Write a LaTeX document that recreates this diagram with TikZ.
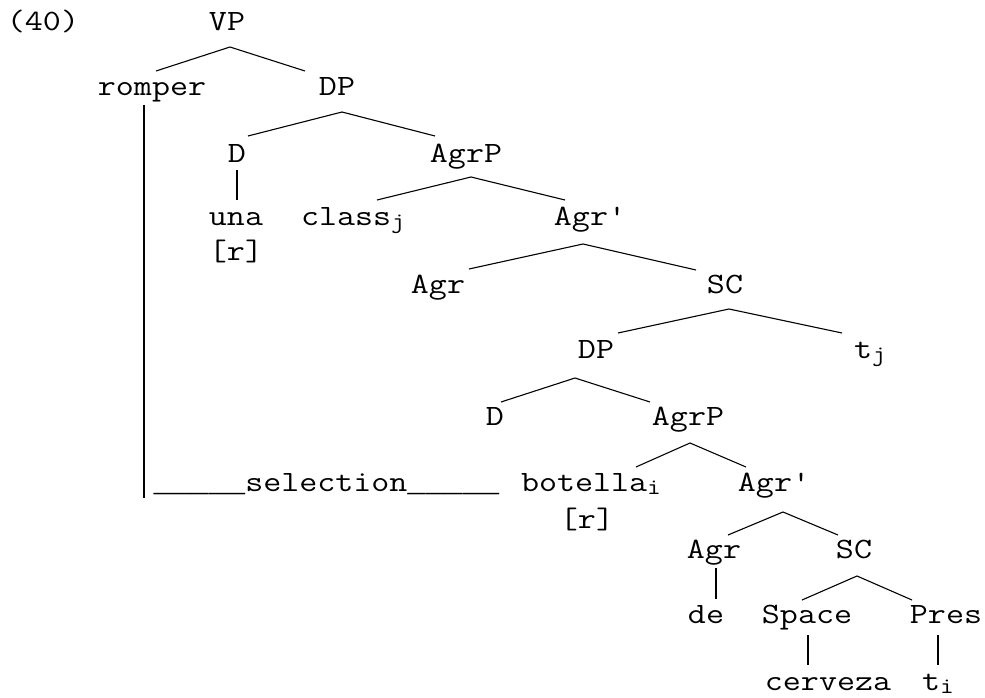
\documentclass[tikz,border=0pt]{standalone}
\usepackage{fontspec}
\newfontfamily\libmono{Liberation Mono}
\usetikzlibrary{calc}
\newcommand\cw[1]{\scalebox{1.186}[1]{#1}}
\newcommand\sbs[1]{\raisebox{-3.5pt}{\fontsize{22.5}{23}\selectfont #1}}
\newcommand\uline{{\libmono\fontsize{30.6}{34}\selectfont\_\_\_\_\_}}
\begin{document}
\begin{tikzpicture}[x=1pt,y=-1pt,
  lbl/.style={inner sep=0pt,outer sep=0pt,anchor=base,font=\ttfamily\fontsize{29.5}{34}\selectfont},
  lblw/.style={lbl,anchor=base west},
  branch/.style={draw=black,line width=1.1pt},
  bar/.style={draw=black,line width=1.7pt}]
\useasboundingbox (0,0) rectangle (985,698);
% nodes
\node[lbl] (ex) at (43,31) {\cw{(40)}};
\node[lbl] (VP) at (227,31) {\cw{VP}};
\node[lbl] (romper) at (152,96) {\cw{romper}};
\node[lbl] (DPa) at (337,96) {\cw{DP}};
\node[lbl] (Da) at (237,162) {\cw{D}};
\node[lbl] (AgrPa) at (466,162) {\cw{AgrP}};
\node[lbl] (una) at (236,225) {\cw{una}};
\node[lbl] (ra) at (236,260) {\cw{[r]}};
\node[lblw] (classj) at (301,225) {\cw{class\sbs{j}}};
\node[lbl] (Agrpa) at (590,225) {\cw{Agr'}};
\node[lbl] (Agra) at (438,293) {\cw{Agr}};
\node[lbl] (SCa) at (725,293) {\cw{SC}};
\node[lbl] (DPb) at (596,358) {\cw{DP}};
\node[lblw] (tj) at (854,358) {\cw{t\sbs{j}}};
\node[lbl] (Db) at (495,425) {\cw{D}};
\node[lbl] (AgrPb) at (688,425) {\cw{AgrP}};
\node[lblw] (sel) at (153.5,491) {\uline\cw{selection}\uline};
\node[lblw] (botella) at (521,491) {\cw{botella\sbs{i}}};
\node[lbl] (Agrpb) at (774,491) {\cw{Agr'}};
\node[lbl] (rb) at (587,528) {\cw{[r]}};
\node[lbl] (Agrb) at (714,558) {\cw{Agr}};
\node[lbl] (SCb) at (854,558) {\cw{SC}};
\node[lbl] (de) at (706,623) {\cw{de}};
\node[lbl] (Space) at (807,623) {\cw{Space}};
\node[lbl] (Pres) at (946,623) {\cw{Pres}};
\node[lbl] (cerveza) at (828,690) {\cw{cerveza}};
\node[lblw] (ti) at (922,690) {\cw{t\sbs{i}}};
% branches
\draw[branch] ($(romper.base)+(4,-25)$) -- ($(VP.base)+(3,16)$) -- ($(DPa.base)+(-32,-25)$);
\draw[branch] ($(Da.base)+(11,-26)$) -- ($(DPa.base)+(5,16)$) -- ($(AgrPa.base)+(-31,-26)$);
\draw[branch] ($(classj.base west)+(76,-25)$) -- ($(AgrPa.base)+(5,15)$) -- ($(Agrpa.base)+(-25,-25)$);
\draw[branch] ($(Agra.base)+(31,-24)$) -- ($(Agrpa.base)+(-7,19)$) -- ($(SCa.base)+(-29,-23)$);
\draw[branch] ($(DPb.base)+(22,-25)$) -- ($(SCa.base)+(4,16)$) -- ($(tj.base west)+(-12,-25)$);
\draw[branch] ($(Db.base)+(6,-23)$) -- ($(DPb.base)+(-21,20)$) -- ($(AgrPb.base)+(-38,-23)$);
\draw[branch] ($(botella.base west)+(115,-24)$) -- ($(AgrPb.base)+(2,18)$) -- ($(Agrpb.base)+(-28,-24)$);
\draw[branch] ($(Agrb.base)+(14,-23)$) -- ($(Agrpb.base)+(9,21)$) -- ($(SCb.base)+(-16,-23)$);
\draw[branch] ($(Space.base)+(-5,-23)$) -- ($(SCb.base)+(3,18)$) -- ($(Pres.base)+(-34,-23)$);
% vertical bars
\coordinate (selcorner) at ($(sel.base west)+(-9.5,7)$);
\draw[bar] ($(romper.base)+(-8,9)$) -- (selcorner);
\draw[bar] ($(Da.base)+(0,8)$) -- ($(una.base)+(1,-25)$);
\draw[bar] ($(Agrb.base)+(2,10)$) -- ($(de.base)+(10,-24)$);
\draw[bar] ($(Space.base)+(1,12)$) -- ($(cerveza.base)+(-20,-25)$);
\draw[bar] ($(Pres.base)+(-8,12)$) -- ($(ti.base west)+(16,-25)$);
\end{tikzpicture}
\end{document}
